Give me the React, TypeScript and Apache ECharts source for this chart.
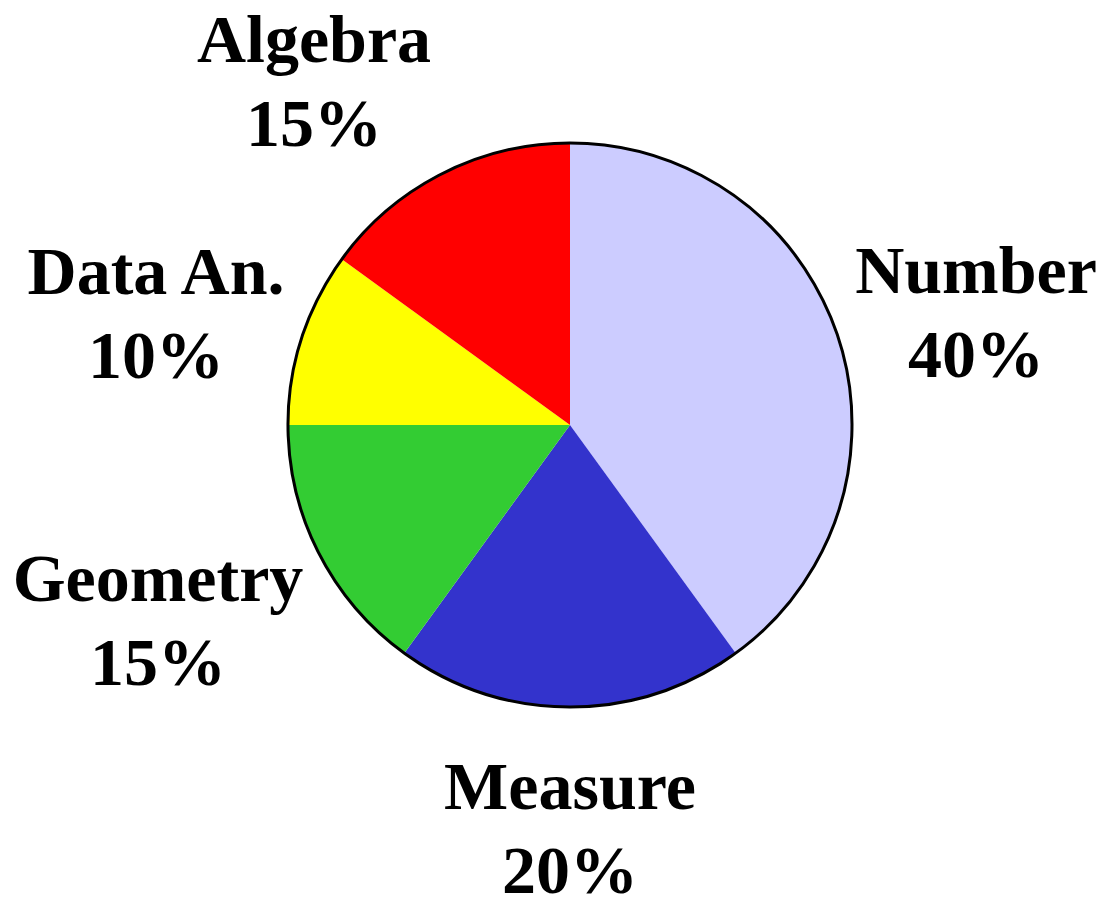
import React, { useEffect, useRef } from "react";
import * as echarts from "echarts";

const categories = ["Number", "Measure", "Geometry", "Data An.", "Algebra"];
const values = [40, 20, 15, 10, 15];
const colors = ["#CCCCFF", "#3333CC", "#33CC33", "#FFFF00", "#FF0000"];

// label anchor positions (layout only)
const LABEL_POS: [number, number][] = [
  [976, 312],
  [570, 828],
  [158, 620],
  [156, 313],
  [314, 81],
];

const CENTER: [number, number] = [570, 425];
const RADIUS = 282;

export default function App() {
  const ref = useRef<HTMLDivElement>(null);
  useEffect(() => {
    document.body.style.margin = "0";
    const chart = echarts.init(ref.current!, undefined, { renderer: "svg" });
    const textStyle = {
      fontFamily: "'Liberation Serif', 'Times New Roman', serif",
      fontWeight: "bold" as const,
      fontSize: 68,
      lineHeight: 84,
      color: "#000",
    };
    chart.setOption({
      animation: false,
      backgroundColor: "#fff",
      series: [
        {
          type: "pie",
          center: CENTER,
          radius: RADIUS,
          startAngle: 90,
          clockwise: true,
          avoidLabelOverlap: false,
          silent: true,
          itemStyle: { borderWidth: 0 },
          label: {
            show: true,
            position: "outside",
            formatter: "{b}\n{d}%",
            align: "center",
            ...textStyle,
          },
          labelLine: { show: false },
          labelLayout: (params: any) => {
            const p = LABEL_POS[params.dataIndex];
            return { x: p[0], y: p[1], align: "center", verticalAlign: "middle" };
          },
          data: categories.map((name, i) => ({
            name,
            value: values[i],
            itemStyle: { color: colors[i] },
          })),
        },
        {
          type: "pie",
          center: CENTER,
          radius: RADIUS,
          silent: true,
          label: { show: false },
          labelLine: { show: false },
          itemStyle: { color: "rgba(0,0,0,0)", borderColor: "#000", borderWidth: 3 },
          data: [{ name: "outline", value: 1 }],
        },
      ],
    });
    return () => chart.dispose();
  }, []);
  return <div ref={ref} style={{ width: 1106, height: 900 }} />;
}
